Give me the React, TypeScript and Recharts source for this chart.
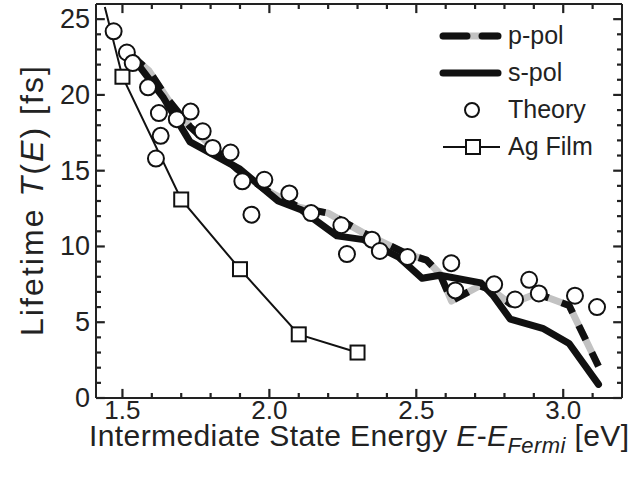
import { ComposedChart, Line, Scatter, XAxis, YAxis, ReferenceLine } from "recharts";

// p-pol (grey band with black dashes) and s-pol traces, energy in eV, lifetime in fs
const pPolE = [1.53, 1.59, 1.655, 1.73, 1.81, 1.89, 1.99, 2.1, 2.2, 2.32, 2.47, 2.535, 2.58, 2.62, 2.715, 2.76, 2.82, 2.91, 3.02, 3.12];
const pPolT = [22.6, 21.6, 19.7, 17.9, 16.5, 15.1, 13.7, 12.6, 12.2, 10.9, 9.5, 9.1, 8.2, 6.4, 7.4, 7.1, 6.2, 6.9, 6.1, 2.1];

const sPolE = [1.53, 1.64, 1.73, 1.9, 2.03, 2.11, 2.23, 2.32, 2.44, 2.52, 2.58, 2.72, 2.76, 2.82, 2.93, 3.02, 3.12];
const sPolT = [22.6, 19.8, 16.9, 15.1, 13.0, 12.4, 10.7, 10.45, 9.3, 7.9, 8.1, 7.6, 6.8, 5.2, 4.6, 3.6, 0.9];

const theoryE = [1.47, 1.515, 1.535, 1.587, 1.614, 1.624, 1.63, 1.685, 1.732, 1.773, 1.807, 1.868, 1.908, 1.939, 1.983, 2.068, 2.142, 2.245, 2.264, 2.349, 2.376, 2.47, 2.619, 2.633, 2.765, 2.836, 2.884, 2.917, 3.04, 3.115];
const theoryT = [24.2, 22.8, 22.1, 20.5, 15.8, 18.8, 17.3, 18.4, 18.9, 17.6, 16.5, 16.2, 14.3, 12.1, 14.4, 13.5, 12.2, 11.4, 9.5, 10.45, 9.7, 9.3, 8.9, 7.1, 7.5, 6.5, 7.8, 6.9, 6.75, 6.0];

// first Ag point is the line's run-in above the frame, drawn without a marker
const agE = [1.44, 1.5, 1.7, 1.9, 2.1, 2.3];
const agT = [25.8, 21.2, 13.1, 8.5, 4.2, 3.0];

const xTicks = [1.5, 1.6, 1.7, 1.8, 1.9, 2.0, 2.1, 2.2, 2.3, 2.4, 2.5, 2.6, 2.7, 2.8, 2.9, 3.0, 3.1];
const xMajor = [1.5, 2.0, 2.5, 3.0];
const yTicks = [0, 1, 2, 3, 4, 5, 6, 7, 8, 9, 10, 11, 12, 13, 14, 15, 16, 17, 18, 19, 20, 21, 22, 23, 24, 25];
const yMajor = [0, 5, 10, 15, 20, 25];

const X_DOMAIN = [1.41, 3.2];
const Y_DOMAIN = [0, 26];

const toPts = (e: number[], t: number[]) => e.map((v, i) => ({ e: v, t: t[i] }));
const pPol = toPts(pPolE, pPolT);
const sPol = toPts(sPolE, sPolT);
const theory = toPts(theoryE, theoryT);
const agFilm = toPts(agE, agT);

const FONT = '"Liberation Sans", Arial, sans-serif';
const INK = "#222";
const AXIS = "#222";
const GREY = "#c2c2c2";

const isMajor = (v: number, list: number[]) => list.some((m) => Math.abs(m - v) < 1e-6);

// inward tick lengths, in axis units
const xTickLen = (v: number) => (isMajor(v, xMajor) ? 0.6 : 0.33);
const yTickLen = (v: number) => (isMajor(v, yMajor) ? 0.03 : 0.017);

function XLabel(props: any) {
  const v = Number(props.payload.value);
  if (!isMajor(v, xMajor)) return <g />;
  return (
    <text x={props.x} y={props.y + 21} textAnchor="middle" fill={INK} fontSize={26} fontFamily={FONT}>
      {v.toFixed(1)}
    </text>
  );
}

function YLabel(props: any) {
  const v = Number(props.payload.value);
  if (!isMajor(v, yMajor)) return <g />;
  return (
    <text x={props.x - 6} y={props.y + 9} textAnchor="end" fill={INK} fontSize={27} fontFamily={FONT}>
      {v}
    </text>
  );
}

function Square(props: any) {
  const { cx, cy, index } = props;
  if (index === 0 || cx == null) return <g key={`sq-${index}`} />;
  return <rect key={`sq-${index}`} x={cx - 7} y={cy - 7} width={14} height={14} fill="#fff" stroke="#111" strokeWidth={2} />;
}

function Circle(props: any) {
  return <circle cx={props.cx} cy={props.cy} r={8} fill="#fff" stroke="#111" strokeWidth={2} />;
}

function LegendBox() {
  const row = { display: "flex", alignItems: "center", height: 37 } as const;
  const txt = { fontFamily: FONT, fontSize: 25, color: INK, marginLeft: 4 } as const;
  return (
    <div style={{ position: "absolute", left: 436, top: 17, width: 190 }}>
      <div style={row}>
        <svg width={68} height={20}>
          <line x1={6} x2={62} y1={10} y2={10} stroke={GREY} strokeWidth={7} />
          <line x1={7} x2={62} y1={10} y2={10} stroke="#111" strokeWidth={7} strokeLinecap="round" strokeDasharray="24 15" />
        </svg>
        <span style={txt}>p-pol</span>
      </div>
      <div style={row}>
        <svg width={68} height={20}>
          <line x1={7} x2={62} y1={10} y2={10} stroke="#111" strokeWidth={7} strokeLinecap="round" />
        </svg>
        <span style={txt}>s-pol</span>
      </div>
      <div style={row}>
        <svg width={68} height={20}>
          <circle cx={36} cy={10} r={7} fill="#fff" stroke="#111" strokeWidth={2} />
        </svg>
        <span style={txt}>Theory</span>
      </div>
      <div style={row}>
        <svg width={68} height={20}>
          <line x1={7} x2={64} y1={10} y2={10} stroke="#111" strokeWidth={2} />
          <rect x={30} y={3} width={14} height={14} fill="#fff" stroke="#111" strokeWidth={2} />
        </svg>
        <span style={txt}>Ag Film</span>
      </div>
    </div>
  );
}

export default function App() {
  const [x0, x1] = X_DOMAIN;
  const [y0, y1] = Y_DOMAIN;
  return (
    <div style={{ position: "absolute", left: 0, top: 0, width: 640, height: 478, background: "#fff" }}>
      <ComposedChart width={640} height={478} data={pPol} margin={{ top: 3, right: 17, bottom: 0, left: 0 }}>
        <XAxis xAxisId="top" dataKey="e" orientation="top" type="number" domain={X_DOMAIN} allowDataOverflow height={1} tick={false} tickLine={false} axisLine={{ stroke: AXIS, strokeWidth: 2 }} />
        <YAxis yAxisId="right" dataKey="t" orientation="right" type="number" domain={Y_DOMAIN} allowDataOverflow width={1} tick={false} tickLine={false} axisLine={{ stroke: AXIS, strokeWidth: 2 }} />
        <XAxis
          dataKey="e"
          type="number"
          domain={X_DOMAIN}
          allowDataOverflow
          ticks={xTicks}
          interval={0}
          height={80}
          tickSize={0}
          tickMargin={0}
          tickLine={false}
          tick={XLabel}
          axisLine={{ stroke: AXIS, strokeWidth: 2 }}
          label={(p: any) => {
            const vb = p.viewBox;
            return (
              <text x={vb.x + vb.width / 2} y={vb.y + 48} textAnchor="middle" fill={INK} fontSize={30} fontFamily={FONT} textLength={540} lengthAdjust="spacing">
                Intermediate State Energy <tspan fontStyle="italic">E</tspan>-<tspan fontStyle="italic">E</tspan>
                <tspan fontStyle="italic" fontSize={22} dy={7}>Fermi</tspan>
                <tspan dy={-7}> [eV]</tspan>
              </text>
            );
          }}
        />
        <YAxis
          type="number"
          domain={Y_DOMAIN}
          allowDataOverflow
          ticks={yTicks}
          interval={0}
          width={96}
          tickSize={0}
          tickMargin={0}
          tickLine={false}
          tick={YLabel}
          axisLine={{ stroke: AXIS, strokeWidth: 2 }}
          label={(p: any) => {
            const vb = p.viewBox;
            const x = vb.x + 43;
            const y = vb.y + vb.height / 2;
            return (
              <text x={x} y={y} transform={`rotate(-90, ${x}, ${y})`} textAnchor="middle" fill={INK} fontSize={32} fontFamily={FONT} textLength={270} lengthAdjust="spacing">
                Lifetime <tspan fontStyle="italic">T</tspan>(<tspan fontStyle="italic">E</tspan>) [fs]
              </text>
            );
          }}
        />
        {/* inward ticks on all four frame edges */}
        {xTicks.map((v) => (
          <ReferenceLine key={`xb-${v}`} segment={[{ x: v, y: y0 }, { x: v, y: y0 + xTickLen(v) }]} stroke={AXIS} strokeWidth={2.2} ifOverflow="visible" />
        ))}
        {xTicks.map((v) => (
          <ReferenceLine key={`xt-${v}`} segment={[{ x: v, y: y1 }, { x: v, y: y1 - xTickLen(v) }]} stroke={AXIS} strokeWidth={2.2} ifOverflow="visible" />
        ))}
        {yTicks.map((v) => (
          <ReferenceLine key={`yl-${v}`} segment={[{ x: x0, y: v }, { x: x0 + yTickLen(v), y: v }]} stroke={AXIS} strokeWidth={2.2} ifOverflow="visible" />
        ))}
        {yTicks.map((v) => (
          <ReferenceLine key={`yr-${v}`} segment={[{ x: x1, y: v }, { x: x1 - yTickLen(v), y: v }]} stroke={AXIS} strokeWidth={2.2} ifOverflow="visible" />
        ))}
        <Line data={pPol} dataKey="t" type="linear" stroke={GREY} strokeWidth={7} dot={false} strokeLinejoin="round" isAnimationActive={false} />
        <Line data={pPol} dataKey="t" type="linear" stroke="#111" strokeWidth={7} strokeDasharray="16 14" dot={false} strokeLinejoin="round" isAnimationActive={false} />
        <Line data={sPol} dataKey="t" type="linear" stroke="#111" strokeWidth={7} dot={false} strokeLinejoin="round" strokeLinecap="round" isAnimationActive={false} />
        <Line data={agFilm} dataKey="t" type="linear" stroke="#111" strokeWidth={2} dot={(p: any) => <Square key={`ag-${p.index}`} {...p} />} isAnimationActive={false} />
        <Scatter data={theory} dataKey="t" shape={Circle} isAnimationActive={false} />
      </ComposedChart>
      <LegendBox />
    </div>
  );
}
